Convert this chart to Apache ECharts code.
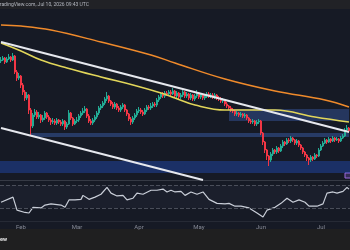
<!DOCTYPE html>
<html>
<head>
<meta charset="utf-8">
<script src="https://cdn.jsdelivr.net/npm/echarts@6/dist/echarts.min.js"></script>
<style>
  html, body { margin: 0; padding: 0; background: #161a25; }
  #chart { width: 350px; height: 250px; }
</style>
</head>
<body>
<div id="chart"></div>
<script>
// daily candles, Jan 22 -> mid Jul (price in chart units)
const monthLabels = ['Feb', 'Mar', 'Apr', 'May', 'Jun', 'Jul']
const firstOpen = 119
const closes = [120,122,118,121,123,120,124,108,102,104,
  95,88,82,85,70,54,65,68,63,65,
  60,62,67,63,60,58,59,57,60,58,
  56,59,53,56,67,62,56,59,60,64,
  67,69,71,64,59,57,60,63,67,72,
  74,77,81,84,79,76,73,76,72,70,
  73,75,70,66,61,58,62,65,69,70,
  68,66,70,73,72,74,76,75,80,83,
  86,84,87,86,88,86,89,84,87,83,
  85,88,84,86,82,85,81,84,87,83,
  85,82,84,86,84,85,83,85,82,81,
  79,80,76,74,72,70,69,66,67,65,
  66,64,65,62,59,58,59,56,58,59,
  47,38,30,24,20,26,30,28,32,29,
  34,38,36,40,39,42,40,37,39,35,
  32,28,25,22,20,23,21,25,24,30,
  34,37,40,38,41,39,42,40,41,39,
  42,44,50,52,49]
const highs = [123,124,123,123,126,124,127,125,110,107,
  105,97,90,88,86,72,67,71,70,68,
  66,65,69,68,65,62,62,61,62,61,
  60,61,60,58,70,68,63,61,63,66,
  69,72,74,72,66,61,62,65,69,74,
  76,79,83,88,85,80,78,78,77,74,
  75,77,76,71,67,63,64,67,71,73,
  72,70,72,75,75,77,78,78,82,85,
  88,88,89,89,90,90,92,90,89,88,
  87,90,89,88,87,87,86,86,90,88,
  87,86,86,88,88,87,87,87,86,84,
  83,82,81,78,75,74,72,70,69,68,
  68,67,67,66,63,61,61,60,60,61,
  60,48,39,31,25,28,32,31,34,33,
  36,40,39,42,42,44,43,41,41,40,
  36,33,29,26,23,25,24,27,26,32,
  36,39,42,41,43,42,44,43,43,42,
  44,46,52,55,53]
const lows = [117,119,116,117,120,118,119,106,99,100,
  92,85,79,80,66,44,52,63,61,61,
  57,58,60,61,58,55,56,55,55,56,
  54,54,50,51,55,60,54,55,57,58,
  62,65,67,62,57,55,55,58,61,65,
  70,72,75,79,77,74,71,71,70,68,
  68,71,68,64,59,55,56,60,63,67,
  66,64,65,68,70,70,72,73,73,78,
  81,82,82,84,84,84,85,82,82,81,
  81,83,82,82,80,80,79,79,82,81,
  81,80,80,82,82,82,81,81,80,79,
  77,77,74,72,70,68,67,64,64,63,
  63,62,62,60,57,56,56,54,54,56,
  45,35,27,20,14,18,24,26,26,27,
  28,32,34,35,37,37,38,35,35,33,
  30,26,23,19,15,18,19,20,22,23,
  29,33,36,36,37,37,38,38,39,37,
  38,41,43,49,47]

// moving averages, read as [day index, value]
const ma200 = [[0,155],[10,154],[25,150],[50,138],[75,125],[87,117],[112,101],[137,89],[162,80],[174,73]]
const ma100 = [[0,137],[10,129],[20,120],[33,112],[50,103],[66,95],[80,87],[87,82],[97,75],[112,70],[137,70],[157,63],[174,58]]
// descending channel
const channelTop = [[0,138],[174,48]]
const channelBottom = [[0,52],[101,0]]

// RSI pane
const rsiIdx = [0,6,8,12,14,16,20,22,25,30,32,34,37,40,41,44,47,50,53,55,58,61,63,66,68,71,75,78,81,83,85,87,90,92,95,98,101,104,108,112,114,117,120,124,128,131,133,137,140,143,146,149,152,154,158,161,163,166,168,171,173,174]
const rsiVal = [40,49,26,22,21,31,30,35,37,35,31,44,44,45,52,45,49,54,66,56,51,52,44,47,56,54,61,61,63,58,61,58,59,52,58,54,58,45,38,37,38,33,33,30,21,14,26,31,38,47,40,44,40,33,33,37,56,58,56,59,66,63]

const dates = []
const start = Date.UTC(2026, 0, 22)
for (let i = 0; i < closes.length; i++) {
  dates.push(new Date(start + i * 86400000).toISOString().slice(0, 10))
}
const candles = closes.map((c, i) => [i === 0 ? firstOpen : closes[i - 1], c, lows[i], highs[i]])

const chart = echarts.init(document.getElementById('chart'))

const option = {
  backgroundColor: '#161a25',
  animation: false,
  grid: [
    { left: 0, right: 0, top: 10, height: 170 },
    { left: 0, right: 0, top: 180, height: 41 }
  ],
  xAxis: [
    { type: 'category', gridIndex: 0, data: dates, show: false },
    {
      type: 'category', gridIndex: 1, data: dates,
      axisLine: { show: false }, axisTick: { show: false }, splitLine: { show: false },
      axisLabel: {
        color: '#878b96', fontSize: 6, margin: 3, fontFamily: 'Roboto',
        interval: (index, value) => value.slice(8) === '01',
        formatter: value => monthLabels[+value.slice(5, 7) - 2]
      }
    }
  ],
  yAxis: [
    { type: 'value', gridIndex: 0, min: 0, max: 170, show: false },
    { type: 'value', gridIndex: 1, min: 7, max: 79, show: false }
  ],
  series: [
    {
      type: 'candlestick',
      data: candles,
      barWidth: '75%',
      itemStyle: {
        color: '#22ab94', color0: '#f23645',
        borderColor: '#22ab94', borderColor0: '#f23645', borderWidth: 1
      },
      markArea: {
        silent: true,
        data: [
          [{ xAxis: 114, yAxis: 71, itemStyle: { color: 'rgba(66,110,200,0.35)' } }, { xAxis: 174, yAxis: 59 }],
          [{ xAxis: 15, yAxis: 47, itemStyle: { color: 'rgba(66,110,200,0.4)' } }, { xAxis: 174, yAxis: 43 }],
          [{ yAxis: 19, itemStyle: { color: 'rgba(41,98,255,0.3)' } }, { yAxis: 7 }]
        ]
      }
    },
    {
      type: 'line', data: ma200, smooth: 0.4, showSymbol: false,
      lineStyle: { color: '#ef8a2b', width: 1.5 }
    },
    {
      type: 'line', data: ma100, smooth: 0.4, showSymbol: false,
      lineStyle: { color: '#e2d65a', width: 1.5 }
    },
    {
      type: 'line', data: channelTop, showSymbol: false, z: 4,
      lineStyle: { color: '#e6e8ee', width: 2 }
    },
    {
      type: 'line', data: channelBottom, showSymbol: false, z: 4,
      lineStyle: { color: '#e6e8ee', width: 2 }
    },
    {
      type: 'line', xAxisIndex: 1, yAxisIndex: 1,
      data: rsiIdx.map((d, i) => [d, rsiVal[i]]),
      showSymbol: false,
      lineStyle: { color: '#c9ced8', width: 1.2 },
      markLine: {
        silent: true, symbol: 'none', label: { show: false },
        lineStyle: { color: '#4a4e5a', type: 'dashed', width: 1 },
        data: [{ yAxis: 70 }, { yAxis: 30 }]
      },
      markArea: {
        silent: true,
        itemStyle: { color: 'rgba(130,140,180,0.05)' },
        data: [[{ yAxis: 70 }, { yAxis: 30 }]]
      }
    }
  ],
  graphic: [
    { type: 'rect', shape: { x: 0, y: 0, width: 350, height: 9 }, style: { fill: '#212226' }, z: 0 },
    {
      type: 'text', left: -3, top: 2,
      style: { text: 'TradingView.com, Jul 10, 2026 09:43 UTC', fill: '#b4b7bf', fontSize: 5, fontFamily: 'Roboto' }
    },
    { type: 'line', shape: { x1: 0, y1: 180.5, x2: 350, y2: 180.5 }, style: { stroke: '#363a45', lineWidth: 1 } },
    { type: 'line', shape: { x1: 0, y1: 221.5, x2: 350, y2: 221.5 }, style: { stroke: '#262a35', lineWidth: 1 } },
    { type: 'rect', shape: { x: 345, y: 173, width: 8, height: 5 }, style: { fill: 'rgba(126,87,194,0.3)', stroke: '#9c6ade', lineWidth: 1 } },
    { type: 'rect', shape: { x: 0, y: 229, width: 350, height: 21 }, style: { fill: '#1f1f20' }, z: 0 },
    {
      type: 'text', right: 343, top: 237,
      style: { text: 'TradingView', fill: '#e8e8e8', fontSize: 5.5, fontWeight: 'bold', fontFamily: 'Roboto' }
    }
  ]
}

chart.setOption(option)
</script>
</body>
</html>
